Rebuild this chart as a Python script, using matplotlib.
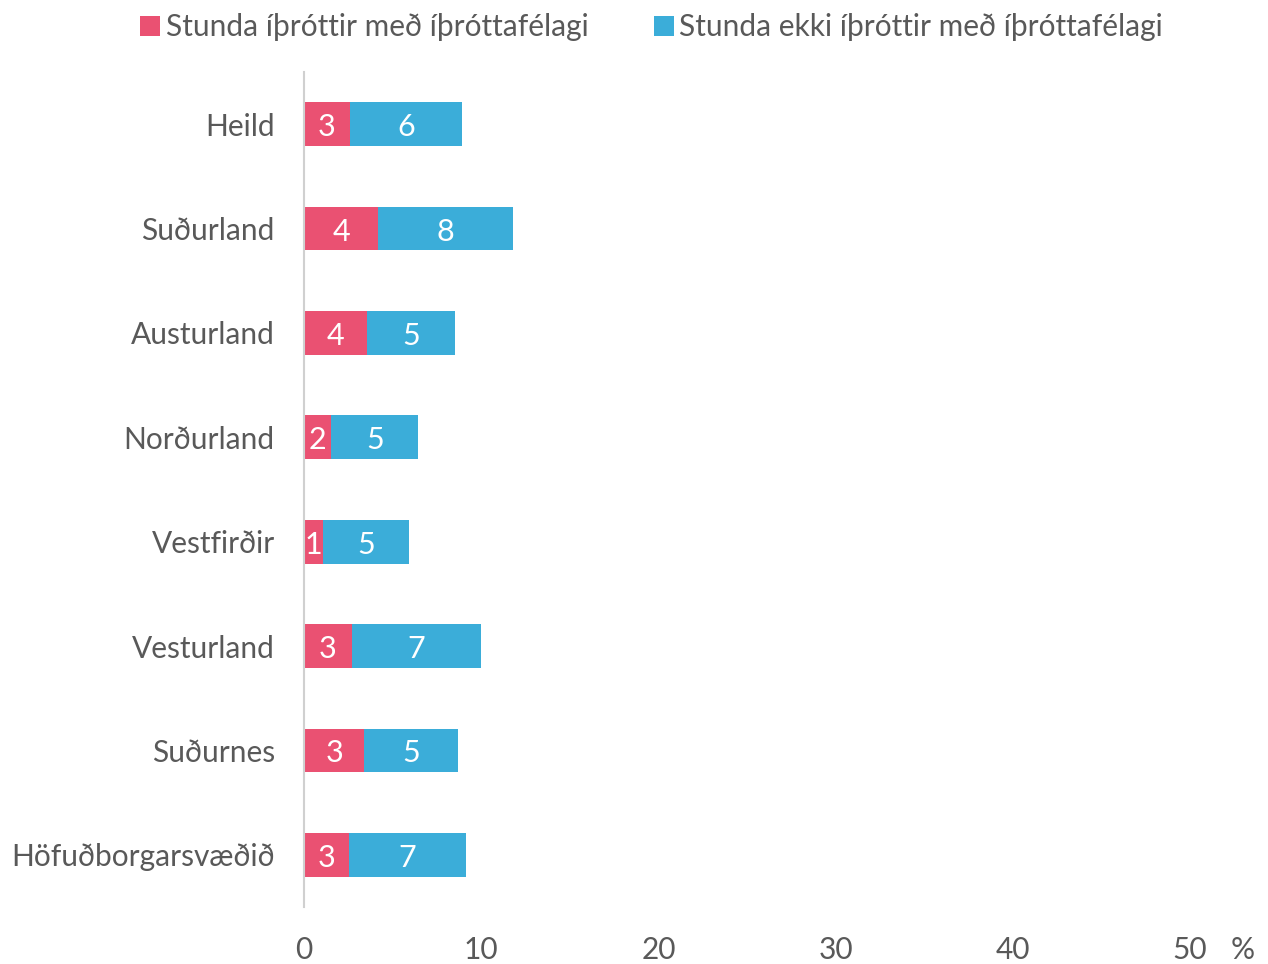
import matplotlib.pyplot as plt
from matplotlib.transforms import offset_copy

plt.rcParams['font.family'] = ['Lato', 'DejaVu Sans']

# data (percent)
regions = ['Heild', 'Suðurland', 'Austurland', 'Norðurland', 'Vestfirðir',
           'Vesturland', 'Suðurnes', 'Höfuðborgarsvæðið']
with_club = [2.6, 4.2, 3.55, 1.55, 1.1, 2.7, 3.4, 2.55]
without_club = [6.3, 7.6, 4.95, 4.9, 4.8, 7.3, 5.3, 6.6]

red = '#EA5172'
blue = '#3BADD9'
text_grey = '#595959'

fig = plt.figure(figsize=(12.68, 9.64), dpi=100)
ax = fig.add_axes([304 / 1268, 1 - 907 / 964, (1190 - 304) / 1268, (907 - 72) / 964])

y = list(range(len(regions)))
ax.barh(y, with_club, height=0.42, color=red,
        label='Stunda íþróttir með íþróttafélagi')
ax.barh(y, without_club, left=with_club, height=0.42, color=blue,
        label='Stunda ekki íþróttir með íþróttafélagi')

# value labels in the middle of each segment, nudged down a little
lbl_tr = offset_copy(ax.transData, fig=fig, y=-3, units='dots')
for i, (a, b) in enumerate(zip(with_club, without_club)):
    ax.text(a / 2, i, f'{a:.0f}', transform=lbl_tr, ha='center', va='center',
            color='white', fontsize=22)
    ax.text(a + b / 2, i, f'{b:.0f}', transform=lbl_tr, ha='center', va='center',
            color='white', fontsize=22)

ax.set_xlim(0, 50)
ax.set_ylim(len(regions) - 0.5, -0.5)
ax.set_yticks(y)
ax.set_yticklabels(regions)
ax.set_xticks([0, 10, 20, 30, 40, 50])
ax.tick_params(axis='both', length=0, labelsize=21.5, labelcolor=text_grey)
ax.tick_params(axis='x', pad=21)
ax.tick_params(axis='y', pad=21)

for s in ('top', 'right', 'bottom'):
    ax.spines[s].set_visible(False)
ax.spines['left'].set_color('#D0D0D0')
ax.spines['left'].set_linewidth(1.5)

fig.text(1243 / 1268, 1 - 950 / 964, '%', fontsize=21.5, color=text_grey,
         ha='center', va='center')

fig.legend(loc='upper center', bbox_to_anchor=(0.514, 1.014), ncol=2,
           frameon=False, fontsize=21.5, labelcolor=text_grey,
           handlelength=0.65, handleheight=0.65, handletextpad=0.2,
           columnspacing=2.2)

fig.savefig('out.png', dpi=100)
